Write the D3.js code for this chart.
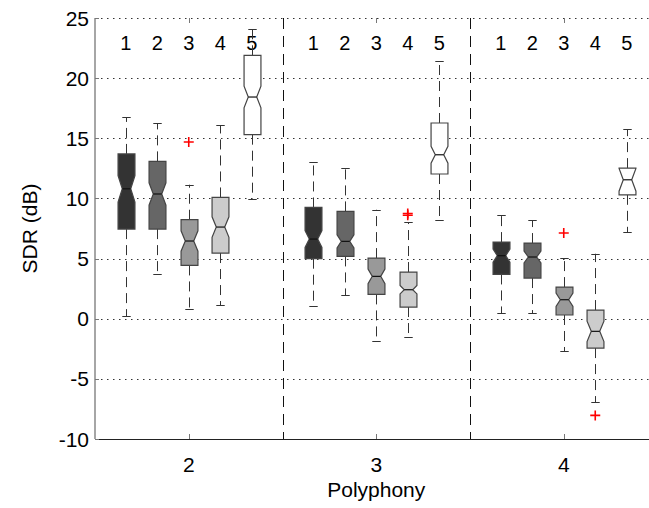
<!doctype html>
<meta charset="utf-8">
<style>
  body { margin: 0; background: #fff; }
  text { font-family: Arial, "Liberation Sans", sans-serif; fill: #000; }
</style>
<body>
<script src="https://d3js.org/d3.v7.min.js"></script>
<script>
var groups = [2, 3, 4],
    methods = [1, 2, 3, 4, 5],
    fills = ['#333333', '#666666', '#999999', '#cccccc', '#ffffff'],
    yTicks = [-10, -5, 0, 5, 10, 15, 20, 25];

// one row per polyphony group, one value per method 1..5
var hiW = [
  [16.75, 16.26, 11.14, 16.1, 24.1],
  [13.0, 12.5, 9.06, 8.0, 21.4],
  [8.64, 8.17, 5.04, 5.4, 15.77]
];
var q3 = [
  [13.7, 13.08, 8.23, 10.08, 21.9],
  [9.25, 8.92, 5.04, 3.88, 16.27],
  [6.37, 6.29, 2.63, 0.72, 12.52]
];
var med = [
  [10.8, 10.37, 6.46, 7.62, 18.43],
  [6.62, 6.43, 3.52, 2.41, 13.63],
  [5.24, 5.13, 1.58, -1.05, 11.55]
];
var q1 = [
  [7.45, 7.45, 4.43, 5.46, 15.3],
  [4.99, 5.18, 2.02, 0.97, 12.03],
  [3.68, 3.38, 0.31, -2.44, 10.3]
];
var loW = [
  [0.2, 3.74, 0.8, 1.1, 9.97],
  [1.08, 1.94, -1.86, -1.5, 8.23],
  [0.47, 0.47, -2.72, -6.96, 7.2]
];
var notch = [
  [1.1, 0.93, 0.85, 0.85, 0.9],
  [0.7, 0.55, 0.6, 0.35, 0.7],
  [0.55, 0.5, 0.55, 0.85, 0.95]
];
// [group index, method index, value]
var outliers = [
  [0, 2, 14.69],
  [1, 3, 8.6], [1, 3, 8.75],
  [2, 2, 7.12],
  [2, 3, -8.04]
];

var W = 649, H = 508,
    mLeft = 95, mTop = 18, mBottom = 439,
    offset = 0.168, boxW = 0.09;

var svg = d3.select('body').append('svg').attr('width', W).attr('height', H);

var x = d3.scaleLinear().domain([1.5, 4.5]).range([mLeft, 657.5]),
    y = d3.scaleLinear().domain([-10, 25]).range([mBottom, mTop]);

function bx(g, m) { return x(groups[g] + (m - 2) * offset); }

// grid
svg.append('g').selectAll('line')
  .data(yTicks.filter(function(t){ return t > -10; }))
  .enter().append('line')
    .attr('x1', mLeft).attr('x2', W)
    .attr('y1', function(t){ return Math.round(y(t)) + 0.5; })
    .attr('y2', function(t){ return Math.round(y(t)) + 0.5; })
    .attr('stroke', '#333').attr('stroke-width', 1)
    .attr('stroke-dasharray', '1.5,4.5');

// separators between groups
svg.append('g').selectAll('line')
  .data([2.5, 3.5])
  .enter().append('line')
    .attr('x1', function(d){ return Math.round(x(d)) + 0.5; })
    .attr('x2', function(d){ return Math.round(x(d)) + 0.5; })
    .attr('y1', mTop).attr('y2', mBottom)
    .attr('stroke', '#111').attr('stroke-width', 1)
    .attr('stroke-dasharray', '11,7');

// axes
svg.append('line').attr('x1', mLeft).attr('x2', mLeft).attr('y1', mTop).attr('y2', mBottom)
  .attr('stroke', '#888').attr('stroke-width', 1.5);
svg.append('line').attr('x1', mLeft).attr('x2', W).attr('y1', mBottom + 0.5).attr('y2', mBottom + 0.5)
  .attr('stroke', '#222').attr('stroke-width', 1);

svg.append('g').selectAll('line').data(yTicks).enter().append('line')
  .attr('x1', mLeft).attr('x2', mLeft + 4)
  .attr('y1', function(t){ return Math.round(y(t)) + 0.5; })
  .attr('y2', function(t){ return Math.round(y(t)) + 0.5; })
  .attr('stroke', '#777');

svg.append('g').selectAll('text').data(yTicks).enter().append('text')
  .attr('x', 89).attr('y', function(t){ return y(t); }).attr('dy', '0.36em')
  .attr('text-anchor', 'end').style('font-size', '21px')
  .text(function(t){ return t; });

groups.forEach(function(gv){
  var xx = Math.round(x(gv)) + 0.5;
  svg.append('line').attr('x1', xx).attr('x2', xx).attr('y1', mBottom).attr('y2', mBottom - 5).attr('stroke', '#777');
  svg.append('line').attr('x1', xx).attr('x2', xx).attr('y1', mTop).attr('y2', mTop + 5).attr('stroke', '#777');
  svg.append('text').attr('x', x(gv)).attr('y', 472).attr('text-anchor', 'middle')
    .style('font-size', '21px').text(gv);
});

svg.append('text').attr('x', x(3)).attr('y', 497).attr('text-anchor', 'middle')
  .style('font-size', '21px').text('Polyphony');
svg.append('text').attr('transform', 'translate(37,' + ((mTop + mBottom) / 2) + ') rotate(-90)')
  .attr('text-anchor', 'middle').style('font-size', '21px').text('SDR (dB)');

// method numbers on top
groups.forEach(function(gv, g){
  methods.forEach(function(mv, m){
    svg.append('text').attr('x', bx(g, m)).attr('y', 50).attr('text-anchor', 'middle')
      .style('font-size', '20px').text(mv);
  });
});

// boxes
var hw = (x(boxW) - x(0)) / 2;
groups.forEach(function(gv, g){
  methods.forEach(function(mv, m){
    var cx = Math.round(bx(g, m)) + 0.5,
        a = q1[g][m], b = q3[g][m], md = med[g][m],
        nlo = Math.max(a, md - notch[g][m]), nhi = Math.min(b, md + notch[g][m]);
    var gr = svg.append('g');

    // whiskers
    [[b, hiW[g][m]], [a, loW[g][m]]].forEach(function(p){
      gr.append('line').attr('x1', cx).attr('x2', cx).attr('y1', y(p[0])).attr('y2', y(p[1]))
        .attr('stroke', '#333').attr('stroke-dasharray', '10,6');
      gr.append('line').attr('x1', cx - hw / 2).attr('x2', cx + hw / 2)
        .attr('y1', Math.round(y(p[1])) + 0.5).attr('y2', Math.round(y(p[1])) + 0.5)
        .attr('stroke', '#333');
    });

    var pts = [
      [cx - hw, y(a)], [cx - hw, y(nlo)], [cx - hw / 2, y(md)], [cx - hw, y(nhi)], [cx - hw, y(b)],
      [cx + hw, y(b)], [cx + hw, y(nhi)], [cx + hw / 2, y(md)], [cx + hw, y(nlo)], [cx + hw, y(a)]
    ];
    gr.append('path').attr('d', d3.line()(pts) + 'Z')
      .attr('fill', fills[m]).attr('stroke', '#444').attr('stroke-width', 1.2);
    gr.append('line').attr('x1', cx - hw / 2).attr('x2', cx + hw / 2)
      .attr('y1', y(md)).attr('y2', y(md)).attr('stroke', '#111').attr('stroke-width', 1.2);
  });
});

// outliers
svg.append('g').selectAll('path').data(outliers).enter().append('path')
  .attr('d', function(o){
    var cx = bx(o[0], o[1]), cy = y(o[2]), s = 5;
    return 'M' + (cx - s) + ',' + cy + 'H' + (cx + s) + 'M' + cx + ',' + (cy - s) + 'V' + (cy + s);
  })
  .attr('stroke', '#ff0000').attr('stroke-width', 1.6).attr('fill', 'none');
</script>
</body>
